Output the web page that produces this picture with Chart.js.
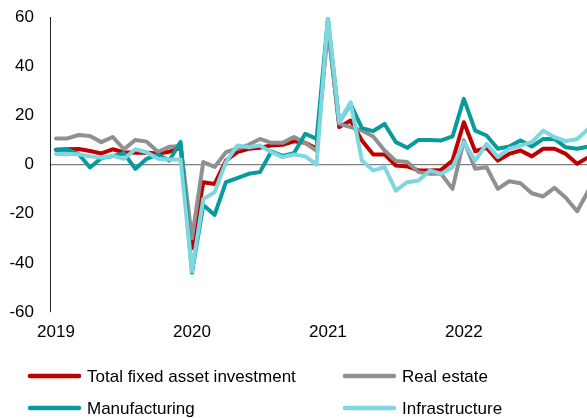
<!DOCTYPE html>
<html>
<head>
<meta charset="utf-8">
<script src="https://cdn.jsdelivr.net/npm/chart.js@4/dist/chart.umd.min.js"></script>
<style>
  html, body { margin: 0; padding: 0; background: #fff; }
  #wrap { width: 587px; height: 418px; position: relative; }
</style>
</head>
<body>
<div id="wrap"><canvas id="faiChart" width="587" height="418"></canvas></div>
<script>
// Meses (índice 0 = enero 2019)
const months = [];
for (let y = 2019; y <= 2022; y++) {
    for (let m = 1; m <= 12; m++) months.push(y + '-' + m);
}

// Etiquetas del eje X
const yearTicks = [0, 12, 24, 36];
const yearLabels = ['2019', '2020', '2021', '2022'];

// Series (% a/a)
const totalFai = [6.0, 6.2, 6.3, 5.5, 4.5, 6.2, 5.0, 4.8, 4.8, 4.5, 5.2, 6.8,
    -34, -7.2, -7.9, 1.6, 5.0, 6.4, 6.8, 7.7, 8.0, 9.4, 8.8, 6.5,
    57, 15.2, 17.9, 9.8, 4.1, 4.1, -0.4, -0.8, -2.4, -2.4, -2.2, 1.6,
    17.2, 5.4, 6.8, 1.6, 4.3, 5.7, 3.3, 6.4, 6.4, 4.3, 0.3, 3.0];

const realEstate = [10.6, 10.6, 12.0, 11.6, 9.1, 11.2, 6.2, 10.0, 9.3, 5.2, 7.2, 7.5,
    -30, 1.0, -1.0, 5.0, 6.4, 8.0, 10.4, 8.8, 8.8, 11.2, 8.8, 5.5,
    55, 16.5, 15.2, 13.8, 11.4, 5.7, 1.4, 1.0, -3.1, -3.8, -3.8, -9.9,
    9.8, -1.7, -1.1, -9.9, -6.8, -7.6, -11.7, -13.0, -9.5, -13.5, -19.0, -10.6];

const manufacturing = [6.0, 6.0, 4.3, -1.2, 2.6, 3.4, 4.6, -1.8, 2.3, 4.0, 1.6, 9.2,
    -44, -16.5, -20.5, -7.2, -5.5, -3.8, -3.1, 5.3, 3.5, 4.6, 12.5, 10.4,
    59, 17.2, 24.7, 14.8, 13.6, 16.5, 9.1, 6.8, 10.0, 10.0, 9.8, 11.4,
    26.7, 13.8, 11.8, 6.4, 7.3, 9.8, 7.3, 10.4, 10.4, 7.0, 6.4, 7.3];

const infrastructure = [4.3, 4.3, 4.2, 3.3, 2.7, 3.6, 2.3, 6.2, 5.0, 2.3, 2.0, 2.0,
    -43.5, -14, -11.3, 1.0, 7.7, 7.0, 7.7, 5.0, 3.0, 4.1, 3.3, 0.0,
    60, 17.2, 25.3, 1.6, -2.4, -1.1, -10.6, -7.2, -6.5, -2.4, -3.8, -1.1,
    9.1, 1.6, 8.4, 3.0, 6.4, 7.7, 9.1, 13.8, 11.1, 9.5, 10.4, 14.5];

const FONT = "'Liberation Sans', Arial, sans-serif";

function toPoints(arr) {
    return arr.map((v, i) => ({ x: i, y: v }));
}

function serie(label, data, color, order) {
    return {
        label: label,
        data: toPoints(data),
        borderColor: color,
        backgroundColor: color,
        borderWidth: 4,
        borderJoinStyle: 'round',
        borderCapStyle: 'round',
        pointRadius: 0,
        tension: 0,
        order: order
    };
}

// Leyenda en dos columnas, dibujada a mano
const leyendaPlugin = {
    id: 'leyenda',
    afterDraw(chart) {
        const ctx = chart.ctx;
        const pos = [[28, 376], [343, 376], [28, 408], [343, 408]];
        ctx.save();
        ctx.font = '17px ' + FONT;
        ctx.textBaseline = 'middle';
        chart.data.datasets.forEach((ds, i) => {
            const [x, y] = pos[i];
            ctx.strokeStyle = ds.borderColor;
            ctx.lineWidth = 4.5;
            ctx.lineCap = 'round';
            ctx.beginPath();
            ctx.moveTo(x + 2, y);
            ctx.lineTo(x + 51, y);
            ctx.stroke();
            ctx.fillStyle = '#000';
            ctx.fillText(ds.label, x + 59, y + 1);
        });
        ctx.restore();
    }
};

const ctx = document.getElementById('faiChart').getContext('2d');
const faiChart = new Chart(ctx, {
    type: 'line',
    data: {
        datasets: [
            serie('Total fixed asset investment', totalFai, '#C00000', 4),
            serie('Real estate', realEstate, '#909090', 3),
            serie('Manufacturing', manufacturing, '#089B9B', 2),
            serie('Infrastructure', infrastructure, '#7DD6E0', 1)
        ]
    },
    options: {
        responsive: false,
        animation: false,
        layout: { padding: { left: 0, right: 0, top: 17, bottom: 0 } },
        plugins: {
            legend: { display: false },
            tooltip: { enabled: false }
        },
        scales: {
            x: {
                type: 'linear',
                min: -0.53,
                max: 46.87,
                afterBuildTicks: scale => {
                    scale.ticks = yearTicks.map(v => ({ value: v }));
                },
                afterFit: scale => {
                    scale.height = 106;
                    scale.paddingLeft = 0;
                    scale.paddingRight = 0;
                },
                ticks: {
                    autoSkip: false,
                    maxRotation: 0,
                    padding: 10,
                    color: '#000',
                    font: { family: FONT, size: 17 },
                    callback: function(value) {
                        const k = yearTicks.indexOf(value);
                        return k >= 0 ? yearLabels[k] : '';
                    }
                },
                grid: { display: false, drawTicks: false },
                border: { display: false }
            },
            y: {
                min: -60,
                max: 60,
                afterFit: scale => {
                    scale.width = 50;
                    scale.paddingTop = 0;
                    scale.paddingBottom = 0;
                },
                ticks: {
                    stepSize: 20,
                    padding: 16,
                    color: '#000',
                    font: { family: FONT, size: 17 }
                },
                grid: {
                    drawTicks: false,
                    color: c => c.tick && c.tick.value === 0 ? '#808080' : 'rgba(0,0,0,0)',
                    lineWidth: 1.2
                },
                border: { display: true, color: '#222', width: 1 }
            }
        }
    },
    plugins: [leyendaPlugin]
});
</script>
</body>
</html>
